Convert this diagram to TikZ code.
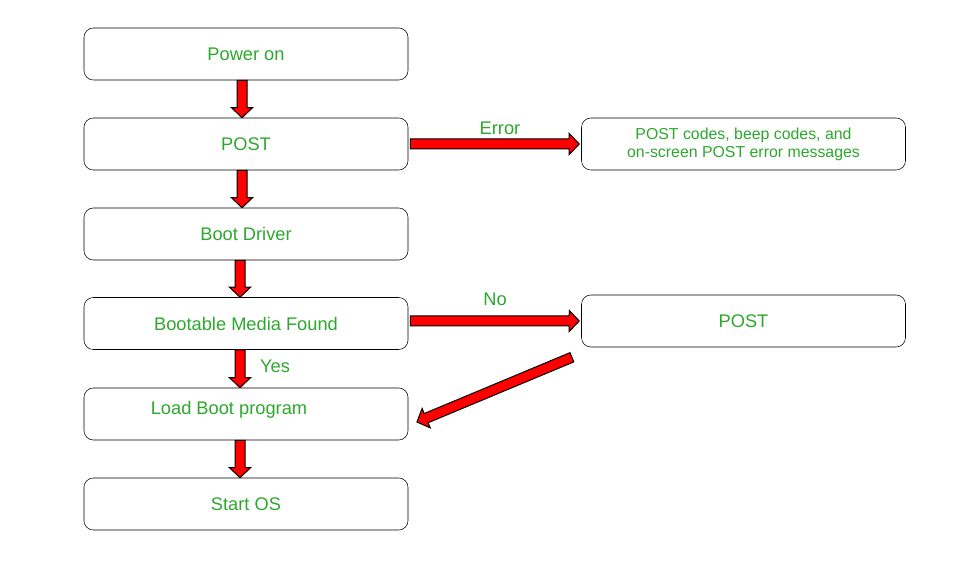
\documentclass[tikz,border=0pt]{standalone}
\usepackage{fontspec}
\setmainfont{Liberation Sans}
\usetikzlibrary{calc}
\tikzset{box/.style = {draw, rounded corners = 7pt, minimum width = 243pt, minimum height = 39pt, text = mgreen, font = \fontsize{13.7}{16}\selectfont}}
\tikzset{smallbox/.style = {box, font = \fontsize{11.9}{13.5}\selectfont, align = center}}
\tikzset{lbl/.style = {text = mgreen, font = \fontsize{13.7}{16}\selectfont}}
\tikzset{fatarrow/.style = {draw = black, fill = red, line width = 0.75pt, line join = miter}}
\definecolor{mgreen}{RGB}{44, 168, 44}
% block arrow from #1 to #2
\newcommand{\redarrow}[2]{%
  \coordinate (hb) at ($(#2)!7.5pt!(#1)$);
  \draw [fatarrow] ($(#1)!3.75pt!90:(#2)$) -- ($(hb)!3.75pt!90:(#2)$) -- ($(hb)!7.9pt!90:(#2)$) -- (#2)
    -- ($(hb)!7.9pt!-90:(#2)$) -- ($(hb)!3.75pt!-90:(#2)$) -- ($(#1)!3.75pt!-90:(#2)$) -- cycle;}

\begin{document}
\begin{tikzpicture}[x = 0.75pt, y = 0.75pt]
      \useasboundingbox (0, 0) rectangle (977, 582);
      \node [box] (pon) at (246, 528) {Power on};
      \node [box] (post) at (246, 438) {POST};
      \node [box] (drv) at (246, 348) {Boot Driver};
      \node [box] (media) at (246, 258.5) {Bootable Media Found};
      \node [box] (load) at (246, 168) {};
      \node [lbl] at (229, 172) {Load Boot program};
      \node [box] (os) at (246, 78) {Start OS};
      \node [smallbox] (codes) at (743.5, 438) {POST codes, beep codes, and\\on-screen POST error messages};
      \node [box] (nopost) at (743.5, 261) {POST};
      \coordinate (a1) at ([xshift = -3pt]pon.south);
      \coordinate (b1) at ([xshift = -3pt]post.north);
      \coordinate (a2) at ([xshift = -3pt]post.south);
      \coordinate (b2) at ([xshift = -3pt]drv.north);
      \coordinate (a3) at ([xshift = -4.5pt]drv.south);
      \coordinate (b3) at ([xshift = -4.5pt]media.north);
      \coordinate (a4) at ([xshift = -4.5pt]media.south);
      \coordinate (b4) at ([xshift = -4.5pt]load.north);
      \coordinate (a5) at ([xshift = -4.5pt]load.south);
      \coordinate (b5) at ([xshift = -4.5pt]os.north);
      \coordinate (e1) at ([xshift = 1.5pt]post.east);
      \coordinate (e2) at ([xshift = -1.5pt]codes.west);
      \coordinate (n1) at ([xshift = 1.5pt, yshift = 2pt]media.east);
      \coordinate (n2) at ([xshift = -1.5pt]nopost.west);
      \coordinate (d1) at ([xshift = -7pt, yshift = -7.5pt]nopost.south west);
      \coordinate (d2) at ([xshift = 6.5pt, yshift = -6pt]load.east);
      \redarrow{a1}{b1}
      \redarrow{a2}{b2}
      \redarrow{a3}{b3}
      \redarrow{a4}{b4}
      \redarrow{a5}{b5}
      \redarrow{e1}{e2}
      \redarrow{n1}{n2}
      \redarrow{d1}{d2}
      \node [lbl] at (500, 454) {Error};
      \node [lbl] at (495, 283) {No};
      \node [lbl] at (275, 216) {Yes};
    \end{tikzpicture}
\end{document}
